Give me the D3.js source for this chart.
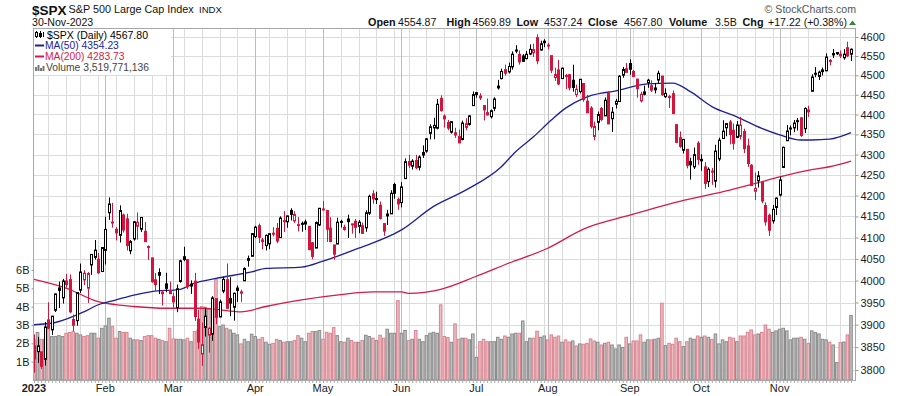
<!DOCTYPE html>
<html>
<head>
<meta charset="UTF-8">
<title>$SPX Daily</title>
<style>
body { margin: 0; background: #fff; }
text { font-family: "Liberation Sans", Arial, sans-serif; }
</style>
</head>
<body>
<script src="https://cdn.jsdelivr.net/npm/d3@7/dist/d3.min.js"></script>
<script>
// trading days, 2023
var days = [
  "01-03","01-04","01-05","01-06","01-09","01-10","01-11","01-12","01-13","01-17","01-18","01-19","01-20","01-23","01-24","01-25","01-26","01-27","01-30","01-31",
  "02-01","02-02","02-03","02-06","02-07","02-08","02-09","02-10","02-13","02-14","02-15","02-16","02-17","02-21","02-22","02-23","02-24","02-27","02-28",
  "03-01","03-02","03-03","03-06","03-07","03-08","03-09","03-10","03-13","03-14","03-15","03-16","03-17","03-20","03-21","03-22","03-23","03-24","03-27","03-28","03-29","03-30","03-31",
  "04-03","04-04","04-05","04-06","04-10","04-11","04-12","04-13","04-14","04-17","04-18","04-19","04-20","04-21","04-24","04-25","04-26","04-27","04-28",
  "05-01","05-02","05-03","05-04","05-05","05-08","05-09","05-10","05-11","05-12","05-15","05-16","05-17","05-18","05-19","05-22","05-23","05-24","05-25","05-26","05-30","05-31",
  "06-01","06-02","06-05","06-06","06-07","06-08","06-09","06-12","06-13","06-14","06-15","06-16","06-20","06-21","06-22","06-23","06-26","06-27","06-28","06-29","06-30",
  "07-03","07-05","07-06","07-07","07-10","07-11","07-12","07-13","07-14","07-17","07-18","07-19","07-20","07-21","07-24","07-25","07-26","07-27","07-28","07-31",
  "08-01","08-02","08-03","08-04","08-07","08-08","08-09","08-10","08-11","08-14","08-15","08-16","08-17","08-18","08-21","08-22","08-23","08-24","08-25","08-28","08-29","08-30","08-31",
  "09-01","09-05","09-06","09-07","09-08","09-11","09-12","09-13","09-14","09-15","09-18","09-19","09-20","09-21","09-22","09-25","09-26","09-27","09-28","09-29",
  "10-02","10-03","10-04","10-05","10-06","10-09","10-10","10-11","10-12","10-13","10-16","10-17","10-18","10-19","10-20","10-23","10-24","10-25","10-26","10-27","10-30","10-31",
  "11-01","11-02","11-03","11-06","11-07","11-08","11-09","11-10","11-13","11-14","11-15","11-16","11-17","11-20","11-21","11-22","11-24","11-27","11-28","11-29","11-30"
];

var open = [
  3853.29,3840.36,3839.74,3823.37,3910.82,3888.57,3932.35,3977.57,3960.60,3999.28,4002.25,3911.84,3909.04,3978.14,4001.74,3982.71,4036.08,4053.72,4049.27,4020.85,
  4070.07,4158.68,4136.69,4119.57,4105.35,4153.47,4144.25,4068.92,4096.62,4126.70,4119.50,4114.75,4077.39,4052.35,4001.83,4018.60,3973.24,3992.36,3977.19,
  3963.34,3938.68,3998.02,4055.15,4048.26,3987.55,3998.66,3912.77,3835.12,3894.01,3876.74,3878.93,3958.69,3917.47,3975.89,4002.04,3959.21,3939.21,3982.93,3974.13,3999.53,4046.74,4056.18,
  4102.20,4128.03,4094.50,4081.15,4085.20,4110.29,4121.72,4100.04,4140.11,4137.17,4164.26,4139.33,4130.48,4132.14,4132.07,4126.43,4087.78,4075.29,4129.63,
  4166.79,4164.10,4122.25,4082.61,4084.73,4136.98,4124.25,4143.74,4132.24,4138.54,4126.65,4127.95,4122.85,4157.68,4204.15,4190.78,4176.80,4132.96,4155.71,4156.16,4226.71,4190.74,
  4183.03,4241.01,4282.99,4271.34,4285.47,4268.69,4304.88,4308.32,4352.61,4366.29,4365.33,4440.95,4396.11,4380.01,4355.40,4354.17,4344.84,4337.36,4367.48,4374.94,4422.44,
  4450.48,4442.04,4422.62,4404.54,4394.23,4415.55,4467.69,4491.50,4514.61,4508.86,4521.78,4563.87,4554.38,4550.16,4543.39,4555.19,4558.96,4598.26,4565.75,4584.82,
  4578.83,4550.93,4494.27,4513.96,4491.58,4498.03,4501.57,4487.16,4450.69,4458.13,4478.87,4433.79,4416.32,4344.88,4380.28,4415.33,4396.44,4455.16,4389.38,4426.03,4432.75,4500.34,4517.01,
  4530.60,4510.06,4490.35,4434.55,4451.30,4480.98,4473.27,4462.65,4487.78,4497.98,4445.13,4445.41,4452.81,4374.36,4341.74,4310.62,4312.88,4282.63,4269.65,4328.18,
  4284.52,4269.75,4233.83,4259.31,4234.79,4289.02,4339.75,4366.59,4380.94,4360.49,4342.37,4345.23,4357.35,4321.36,4273.85,4210.40,4235.79,4232.42,4175.99,4152.93,4139.39,4171.33,
  4201.27,4268.26,4334.23,4364.27,4366.21,4384.37,4391.41,4364.15,4406.66,4458.97,4505.30,4497.08,4509.55,4511.70,4538.77,4553.04,4555.84,4554.86,4545.55,4571.84,4554.87
];
var high = [
  3878.46,3873.16,3839.74,3906.19,3950.57,3919.83,3970.07,3997.76,4003.95,4015.39,4014.16,3922.94,3972.96,4039.31,4023.92,4019.55,4061.57,4094.21,4063.85,4077.16,
  4148.95,4195.44,4182.36,4124.63,4176.54,4156.85,4156.23,4094.36,4138.90,4159.77,4148.11,4136.54,4081.51,4052.35,4017.37,4028.30,3978.25,4018.05,3997.50,
  3971.73,3990.84,4048.29,4078.49,4050.00,4000.41,4017.81,3934.05,3905.05,3937.29,3894.26,3964.46,3958.91,3956.62,4009.08,4039.49,4007.66,3972.74,3988.89,3979.20,4030.59,4057.85,4110.75,
  4127.66,4133.13,4099.69,4107.32,4109.50,4124.26,4134.37,4150.26,4163.19,4151.72,4169.48,4162.57,4148.57,4138.02,4142.41,4126.43,4089.67,4138.24,4170.06,
  4186.92,4164.10,4148.30,4082.61,4147.02,4142.30,4130.35,4154.28,4132.80,4143.74,4141.25,4135.54,4164.67,4202.20,4212.91,4209.22,4185.68,4132.96,4165.74,4212.87,4231.10,4195.44,
  4232.43,4290.67,4299.28,4288.33,4299.19,4298.01,4322.62,4340.13,4375.37,4391.82,4439.20,4448.47,4400.15,4386.22,4382.25,4366.55,4362.06,4384.42,4390.35,4398.39,4458.48,
  4456.46,4454.06,4422.62,4440.39,4412.60,4443.64,4488.34,4517.38,4527.76,4532.85,4562.30,4578.43,4564.74,4555.00,4563.41,4580.62,4582.47,4607.07,4590.16,4594.22,
  4584.62,4550.93,4519.49,4540.34,4519.84,4503.31,4502.44,4527.37,4476.23,4490.33,4478.87,4449.95,4421.17,4381.82,4407.55,4418.59,4443.18,4458.30,4418.46,4439.56,4500.14,4521.65,4532.26,
  4541.25,4514.29,4490.35,4457.81,4473.53,4490.77,4487.11,4479.39,4511.99,4497.98,4466.36,4449.85,4461.03,4375.70,4357.40,4338.51,4313.01,4292.07,4317.27,4333.15,
  4300.58,4281.15,4268.50,4267.13,4324.10,4341.73,4385.46,4378.64,4385.85,4377.10,4383.33,4393.57,4364.20,4339.54,4276.56,4255.84,4259.38,4232.42,4183.60,4156.70,4177.47,4195.55,
  4245.64,4319.72,4373.62,4372.21,4386.26,4391.20,4393.40,4418.03,4421.76,4502.64,4521.17,4511.99,4520.12,4557.11,4542.14,4568.43,4560.31,4564.37,4568.14,4587.64,4569.89
];
var low = [
  3794.33,3815.77,3802.42,3809.56,3890.42,3877.29,3928.54,3937.56,3947.67,3984.57,3926.59,3885.54,3897.86,3971.64,3989.79,3949.06,4013.29,4048.70,4015.55,4020.44,
  4037.20,4141.88,4123.36,4093.38,4088.39,4111.67,4069.67,4060.79,4092.67,4095.01,4113.23,4089.59,4047.95,3995.19,3976.90,3969.19,3943.08,3973.55,3968.98,
  3939.05,3928.16,3995.17,4044.61,3980.31,3969.76,3908.70,3846.32,3808.86,3873.63,3838.24,3864.11,3901.27,3916.89,3971.19,3936.17,3919.05,3909.16,3951.34,3951.53,3999.53,4032.10,4056.18,
  4098.79,4086.87,4072.56,4069.84,4072.55,4102.61,4086.94,4099.40,4113.20,4123.18,4140.36,4134.49,4114.57,4113.86,4117.77,4071.38,4049.35,4075.29,4127.18,
  4164.12,4089.72,4088.86,4048.28,4084.73,4123.81,4116.06,4098.92,4109.29,4099.12,4110.27,4109.86,4113.62,4153.50,4180.20,4179.68,4142.54,4103.98,4129.73,4156.16,4192.18,4166.15,
  4171.64,4241.01,4266.82,4263.09,4263.96,4261.07,4291.70,4304.37,4337.66,4337.85,4362.60,4407.44,4367.19,4360.14,4351.82,4341.34,4328.08,4335.00,4360.22,4371.97,4422.44,
  4442.29,4436.61,4385.05,4397.40,4389.92,4408.46,4463.23,4489.36,4499.56,4504.90,4514.59,4557.48,4527.56,4535.79,4541.29,4552.42,4547.58,4528.56,4564.01,4573.14,
  4567.53,4505.75,4485.54,4474.55,4491.15,4464.39,4461.33,4457.92,4443.98,4453.44,4432.19,4403.55,4364.83,4335.31,4360.30,4382.77,4396.44,4375.55,4356.29,4414.98,4431.68,4493.59,4507.39,
  4501.35,4496.01,4442.38,4430.46,4448.38,4467.89,4456.83,4453.52,4478.69,4447.21,4442.11,4416.61,4401.38,4329.17,4316.49,4302.70,4265.98,4238.63,4264.38,4274.86,
  4260.21,4216.45,4220.48,4225.91,4219.55,4283.79,4339.64,4345.34,4325.43,4311.97,4342.37,4337.54,4303.84,4269.69,4223.03,4189.22,4219.43,4181.42,4127.90,4103.78,4132.94,4153.12,
  4197.74,4268.26,4334.23,4347.53,4355.41,4359.76,4343.94,4353.34,4393.82,4458.97,4495.31,4487.83,4499.66,4510.36,4525.51,4545.05,4552.80,4545.07,4540.51,4547.15,4537.24
];
var close = [
  3824.14,3852.97,3808.10,3895.08,3892.09,3919.25,3969.61,3983.17,3999.09,3990.97,3928.86,3898.85,3972.61,4019.81,4016.95,4016.22,4060.43,4070.56,4017.77,4076.60,
  4119.21,4179.76,4136.48,4111.08,4164.00,4117.86,4081.50,4090.46,4137.29,4136.13,4147.60,4090.41,4079.09,3997.34,3991.05,4012.32,3970.04,3982.24,3970.15,
  3951.39,3981.35,4045.64,4048.42,3986.37,3992.01,3918.32,3861.59,3855.76,3919.29,3891.93,3960.28,3916.64,3951.57,4002.87,3936.97,3948.72,3970.99,3977.53,3971.27,4027.81,4050.83,4109.31,
  4124.51,4100.60,4090.38,4105.02,4109.11,4108.94,4091.95,4146.22,4137.64,4151.32,4154.87,4154.52,4129.79,4133.52,4137.04,4071.63,4055.99,4135.35,4169.48,
  4167.87,4119.58,4090.75,4061.22,4136.25,4138.12,4119.17,4137.64,4130.62,4124.08,4136.28,4109.90,4158.77,4198.05,4191.98,4192.63,4145.58,4115.24,4151.28,4205.45,4205.52,4179.83,
  4221.02,4282.37,4273.79,4283.85,4267.52,4293.93,4298.86,4338.93,4369.01,4372.59,4425.84,4409.59,4388.71,4365.69,4381.89,4348.33,4328.82,4378.41,4376.86,4396.44,4450.38,
  4455.59,4446.82,4411.59,4398.95,4409.53,4439.26,4472.16,4510.04,4505.42,4522.79,4554.98,4565.72,4534.87,4536.34,4554.64,4567.46,4566.75,4537.41,4582.23,4588.96,
  4576.73,4513.39,4501.89,4478.03,4518.44,4499.38,4467.71,4468.83,4464.05,4489.72,4437.86,4404.33,4370.36,4369.71,4399.77,4387.55,4436.01,4376.31,4405.71,4433.31,4497.63,4514.87,4507.66,
  4515.77,4496.83,4465.48,4451.14,4457.49,4487.46,4461.90,4467.44,4505.10,4450.32,4453.53,4443.95,4402.20,4330.00,4320.06,4337.44,4273.53,4274.51,4299.70,4288.05,
  4288.39,4229.45,4263.75,4258.19,4308.50,4335.66,4358.24,4376.95,4349.61,4327.78,4373.63,4373.20,4314.60,4278.00,4224.16,4217.04,4247.68,4186.77,4137.23,4117.37,4166.82,4193.80,
  4237.86,4317.78,4358.34,4365.98,4378.38,4382.78,4347.35,4415.24,4411.55,4495.70,4502.88,4508.24,4514.02,4547.38,4538.19,4556.62,4559.34,4550.43,4554.89,4550.58,4567.80
];
var prevClose = 3839.50;   // 30-Dec-2022

// volume, billions of shares
var volume = [
  2.22,2.59,2.22,2.22,2.77,2.37,2.37,2.42,2.37,2.55,2.59,2.64,2.55,2.46,2.37,2.42,2.55,2.55,2.28,2.82,
  2.95,3.37,2.91,2.28,2.64,2.59,2.59,2.28,2.19,2.19,2.15,2.37,2.42,2.42,2.28,2.22,2.15,2.09,2.82,
  2.24,2.22,2.22,2.19,2.28,2.09,2.64,2.73,4.01,3.97,3.86,3.80,5.50,2.91,3.00,2.82,2.73,2.55,2.46,1.97,2.22,2.09,2.50,
  2.37,2.22,2.31,2.06,1.95,2.00,2.22,2.15,2.06,2.09,2.09,2.15,2.42,2.28,2.09,2.55,2.64,2.64,2.70,
  2.22,2.60,2.55,2.86,2.42,2.09,2.06,2.28,2.15,2.06,2.06,2.15,2.44,2.37,2.28,2.15,2.44,2.28,2.77,2.55,2.55,4.33,
  2.55,2.70,2.15,2.22,2.70,2.22,2.09,2.42,2.55,2.60,2.55,4.10,2.37,2.31,2.06,3.06,2.22,2.28,2.28,2.19,2.51,
  1.24,2.09,2.22,2.09,2.09,2.09,2.33,2.22,2.40,2.33,2.51,2.55,2.55,3.22,2.09,2.28,2.28,2.66,2.33,2.40,
  2.19,2.46,2.33,2.40,2.06,2.19,2.07,2.13,1.86,1.97,1.95,2.00,2.24,2.13,2.06,1.91,2.00,2.06,1.91,1.69,1.91,1.78,2.33,
  1.97,2.13,2.13,2.46,2.06,2.19,2.19,2.22,2.28,4.19,1.88,2.00,1.95,2.28,2.09,1.82,2.09,2.28,2.22,2.40,
  2.33,2.40,2.33,2.22,2.51,1.97,2.19,2.09,2.33,2.28,2.09,2.40,2.40,2.60,2.73,2.46,2.51,2.60,3.00,2.77,2.60,2.68,
  2.77,2.82,2.68,2.19,2.28,2.28,2.33,2.22,2.00,2.68,2.59,2.51,2.22,2.19,2.06,1.91,0.95,2.04,2.07,2.46,3.52
];

// moving averages (day index, value)
var ma50Day = [0,6,14,18,23,28,33,41,45,51,61,65,75,81,91,103,112,121,131,135,140,145,149,154,159,162,172,179,184,190,197,204,209,215,218,223,229];
var ma50 = [3900,3905,3929,3945,3956,3967,3975,3980,3994,4005,4020,4028,4031,4045,4075,4118,4174,4213,4270,4307,4344,4386,4416,4441,4454,4458,4478,4480,4458,4420,4394,4365,4349,4336,4336,4338,4354.23];
var ma200Day = [0,9,18,23,28,37,47,56,58,65,75,86,95,103,105,114,124,133,144,154,167,181,195,203,209,218,223,229];
var ma200 = [4003,3983,3952,3945,3941,3937,3937,3930,3929,3941,3956,3968,3974,3974,3971,3980,4010,4040,4075,4120,4153,4186,4213,4231,4245,4263,4270,4283.73];

var priceTicks = [3800,3850,3900,3950,4000,4050,4100,4150,4200,4250,4300,4350,4400,4450,4500,4550,4600];
var volTicks = [1,2,3,4,5,6];
var monthNames = ["2023","Feb","Mar","Apr","May","Jun","Jul","Aug","Sep","Oct","Nov"];

var quote = [
  ["Open", true, 368], ["4554.87", false, 398],
  ["High", true, 446.5], ["4569.89", false, 472.5],
  ["Low", true, 516.5], ["4537.24", false, 544],
  ["Close", true, 588], ["4567.80", false, 624],
  ["Volume", true, 669], ["3.5B", false, 715],
  ["Chg", true, 742.5], ["+17.22 (+0.38%)", false, 768]
];

var width = 900, height = 396;
var pl = 33, pr = 856, pt = 29, pb = 380;
var red = "#d3143c", blue = "#1e1e9a", red2 = "#d61a46";

var svg = d3.select("body").append("svg")
  .attr("width", width)
  .attr("height", height);

var x = d3.scalePoint().domain(days).range([34, 851]);
var y = d3.scaleLog().domain([3800, 4600]).range([370, 37]);
var yv = d3.scaleLinear().domain([0, 6]).range([380, 270]);
var step = x.step();
var parse = d3.timeParse("%Y-%m-%d");
var dates = days.map(function(d){ return parse("2023-" + d); });

svg.append("clipPath").attr("id", "plot")
  .append("rect").attr("x", pl).attr("y", pt).attr("width", pr - pl).attr("height", pb - pt);

// grid
var grid = svg.append("g");
grid.selectAll(".hg").data(priceTicks).enter().append("line")
  .attr("x1", pl).attr("x2", pr)
  .attr("y1", function(d){ return Math.round(y(d)) + 0.5; })
  .attr("y2", function(d){ return Math.round(y(d)) + 0.5; })
  .attr("stroke", "#dcdcdc");

var weekStarts = [], monthStarts = [0];
dates.forEach(function(d, i){
  if (i == 0) return;
  var p = dates[i - 1];
  if (d.getMonth() != p.getMonth()) monthStarts.push(i);
  else if (+d3.timeMonday.floor(d) != +d3.timeMonday.floor(p)) weekStarts.push(i);
});
grid.selectAll(".wg").data(weekStarts).enter().append("line")
  .attr("x1", function(i){ return Math.round(x(days[i])) + 0.5; })
  .attr("x2", function(i){ return Math.round(x(days[i])) + 0.5; })
  .attr("y1", pt).attr("y2", pb)
  .attr("stroke", "#dcdcdc");
grid.selectAll(".mg").data(monthStarts.slice(1)).enter().append("line")
  .attr("x1", function(i){ return Math.round(x(days[i])) + 0.5; })
  .attr("x2", function(i){ return Math.round(x(days[i])) + 0.5; })
  .attr("y1", pt).attr("y2", pb)
  .attr("stroke", "#bdbdbd");

function upDay(i) {
  return close[i] >= (i ? close[i - 1] : prevClose);
}

var plot = svg.append("g").attr("clip-path", "url(#plot)");

// volume bars
plot.selectAll(".vol").data(days).enter().append("rect")
  .attr("x", function(d){ return x(d) - step / 2 + 0.5; })
  .attr("width", step - 1)
  .attr("y", function(d, i){ return yv(volume[i]); })
  .attr("height", function(d, i){ return pb - yv(volume[i]); })
  .attr("fill", function(d, i){ return upDay(i) ? "#c0c0c0" : "#ebbbc0"; })
  .attr("stroke", function(d, i){ return upDay(i) ? "#8c8c8c" : "#d98591"; });

// moving averages
function maLine(idx) {
  return d3.line()
    .x(function(v, k){ return x(days[idx[k]]); })
    .y(function(v){ return y(v); })
    .curve(d3.curveMonotoneX);
}
plot.append("path").attr("d", maLine(ma200Day)(ma200))
  .attr("fill", "none").attr("stroke", red2).attr("stroke-width", 1.3);
plot.append("path").attr("d", maLine(ma50Day)(ma50))
  .attr("fill", "none").attr("stroke", blue).attr("stroke-width", 1.3);

// candles
var candles = plot.selectAll(".candle").data(days).enter().append("g");
candles.append("line")
  .attr("x1", function(d){ return Math.round(x(d)) + 0.5; })
  .attr("x2", function(d){ return Math.round(x(d)) + 0.5; })
  .attr("y1", function(d, i){ return y(high[i]); })
  .attr("y2", function(d, i){ return y(low[i]); })
  .attr("stroke", function(d, i){ return upDay(i) ? "#000" : red; });
candles.append("rect")
  .attr("x", function(d){ return Math.round(x(d)) - 0.5; })
  .attr("width", 2)
  .attr("y", function(d, i){ return y(Math.max(open[i], close[i])); })
  .attr("height", function(d, i){ return Math.max(1, y(Math.min(open[i], close[i])) - y(Math.max(open[i], close[i]))); })
  .attr("fill", function(d, i){ return close[i] >= open[i] ? "#fff" : (upDay(i) ? "#000" : red); })
  .attr("stroke", function(d, i){ return upDay(i) ? "#000" : red; });

// frame
svg.append("rect")
  .attr("x", pl + 0.5).attr("y", pt - 0.5)
  .attr("width", pr - pl - 1).attr("height", pb - pt + 1)
  .attr("fill", "none").attr("stroke", "#a8a8a8");

// right price axis
var ya = svg.append("g").attr("transform", "translate(" + (pr - 0.5) + ",0)")
  .call(d3.axisRight(y).tickValues(priceTicks).tickFormat(d3.format("d")).tickSize(3).tickPadding(2));
ya.select(".domain").remove();
ya.selectAll("line").attr("stroke", "#999");
ya.selectAll("text").attr("font-family", "Liberation Sans, Arial").attr("font-size", 11).attr("fill", "#222");

// left volume axis
var va = svg.append("g").attr("transform", "translate(" + (pl + 0.5) + ",0)")
  .call(d3.axisLeft(yv).tickValues(volTicks).tickFormat(function(d){ return d + "B"; }).tickSize(2).tickPadding(2));
va.select(".domain").remove();
va.selectAll("line").attr("stroke", "#999");
va.selectAll("text").attr("font-family", "Liberation Sans, Arial").attr("font-size", 11).attr("fill", "#222");

// bottom day ticks and month labels
var xa = svg.append("g").attr("transform", "translate(0," + pb + ")")
  .call(d3.axisBottom(x).tickValues(days).tickFormat("").tickSize(3));
xa.select(".domain").remove();
xa.selectAll("line").attr("stroke", "#aaa");

svg.selectAll(".mlab").data(monthStarts).enter().append("text")
  .attr("x", function(i){ return x(days[i]); })
  .attr("y", 392)
  .attr("text-anchor", "middle")
  .attr("font-size", 11)
  .attr("font-weight", function(i, k){ return k == 0 ? "bold" : "normal"; })
  .attr("fill", "#222")
  .text(function(i, k){ return monthNames[k]; });

// legend
var lg = svg.append("g");
lg.append("rect").attr("x", pl + 1).attr("y", pt).attr("width", 137).attr("height", 46).attr("fill", "#fff");
// candle icon
lg.append("line").attr("x1", 36.5).attr("x2", 36.5).attr("y1", 31).attr("y2", 38).attr("stroke", "#000");
lg.append("rect").attr("x", 35.5).attr("y", 32.5).attr("width", 2).attr("height", 4).attr("fill", "#fff").attr("stroke", "#000");
lg.append("line").attr("x1", 40.5).attr("x2", 40.5).attr("y1", 31).attr("y2", 38).attr("stroke", "#000");
lg.append("rect").attr("x", 39.5).attr("y", 33.5).attr("width", 2).attr("height", 3).attr("fill", "#000").attr("stroke", "#000");
lg.append("line").attr("x1", 43.5).attr("x2", 43.5).attr("y1", 32).attr("y2", 37).attr("stroke", "#000");
lg.append("text").attr("x", 47).attr("y", 38.5)
  .attr("font-family", "DejaVu Sans, Verdana").attr("font-size", 10.5).attr("fill", "#000")
  .text("$SPX (Daily) 4567.80");
lg.append("line").attr("x1", 35).attr("x2", 44).attr("y1", 45.5).attr("y2", 45.5).attr("stroke", blue).attr("stroke-width", 2);
lg.append("text").attr("x", 45).attr("y", 49.2).attr("font-size", 10.3).attr("fill", blue).text("MA(50) 4354.23");
lg.append("line").attr("x1", 35).attr("x2", 44).attr("y1", 56.5).attr("y2", 56.5).attr("stroke", red2).attr("stroke-width", 2);
lg.append("text").attr("x", 45).attr("y", 60).attr("font-size", 10.3).attr("fill", red2).text("MA(200) 4283.73");
lg.selectAll(".vi").data([4, 6, 3, 5]).enter().append("rect")
  .attr("x", function(d, k){ return 35 + k * 2.5; })
  .attr("y", function(d){ return 71 - d; })
  .attr("width", 2).attr("height", function(d){ return d; })
  .attr("fill", "#777");
lg.append("text").attr("x", 46).attr("y", 70.7).attr("font-size", 10.3).attr("fill", "#444").text("Volume 3,519,771,136");

// header
svg.append("text").attr("x", 32).attr("y", 14.5).attr("font-size", 13.5).attr("font-weight", "bold").attr("fill", "#111").text("$SPX");
svg.append("text").attr("x", 68.5).attr("y", 13).attr("font-size", 10.8).attr("fill", "#111").text("S&P 500 Large Cap Index");
svg.append("text").attr("x", 199).attr("y", 13).attr("font-size", 9.6).attr("fill", "#111").text("INDX");
svg.append("text").attr("x", 32).attr("y", 26).attr("font-size", 10.6).attr("fill", "#111").text("30-Nov-2023");
svg.append("text").attr("x", 856).attr("y", 13).attr("text-anchor", "end").attr("font-size", 10.6).attr("fill", "#555").text("\u00a9 StockCharts.com");

svg.selectAll(".q").data(quote).enter().append("text")
  .attr("x", function(d){ return d[2]; })
  .attr("y", 26)
  .attr("font-size", function(d){ return d[1] ? 10.8 : 10.6; })
  .attr("font-weight", function(d){ return d[1] ? "bold" : "normal"; })
  .attr("fill", "#111")
  .text(function(d){ return d[0]; });
svg.append("path").attr("d", "M849,25L852.5,20.5L856,25Z").attr("fill", "#2e8b2e");
</script>
</body>
</html>
